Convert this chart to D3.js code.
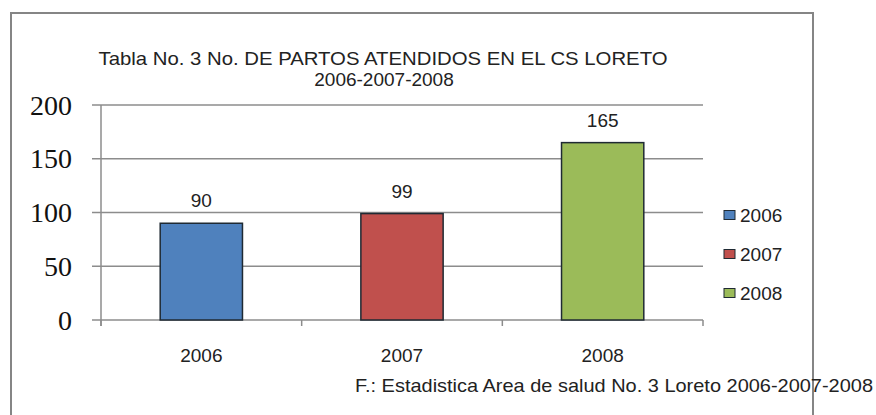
<!DOCTYPE html>
<html>
<head>
<meta charset="utf-8">
<script src="https://cdn.jsdelivr.net/npm/d3@7"></script>
<style>
  body { margin: 0; background: #fff; }
  svg { display: block; }
</style>
</head>
<body>
<div class="chart"></div>
<script>
// chart data
const years = ['2006', '2007', '2008'];
const partos = [90, 99, 165];
const colors = ['#4f81bd', '#c0504d', '#9bbb59'];
const yTicks = [0, 50, 100, 150, 200];
const titleLines = ['Tabla No. 3 No. DE PARTOS ATENDIDOS EN EL CS LORETO', '2006-2007-2008'];
const footer = 'F.: Estadistica Area de salud No. 3 Loreto 2006-2007-2008';

const width = 876;
const height = 415;

// plot area
const plot = { left: 101, right: 703, top: 105, bottom: 320 };

const svg = d3.select('.chart')
  .append('svg')
  .attr('width', width)
  .attr('height', height)
  .style('font-family', '"Liberation Sans", Arial, sans-serif');

// outer frame
svg.append('rect')
  .attr('x', 11)
  .attr('y', 13)
  .attr('width', 802)
  .attr('height', 420)
  .attr('fill', 'none')
  .attr('stroke', '#858585')
  .attr('stroke-width', 2);

// scales
const x = d3.scaleBand()
  .domain(years)
  .range([plot.left, plot.right])
  .paddingInner(0.59)
  .paddingOuter(0.295);
const xEdges = d3.scaleBand().domain(years).range([plot.left, plot.right]);
const y = d3.scaleLinear().domain([0, 200]).range([plot.bottom, plot.top]);

// gridlines + y ticks
svg.append('g')
  .selectAll('line')
  .data(yTicks)
  .enter()
  .append('line')
  .attr('x1', plot.left - 9)
  .attr('x2', plot.right)
  .attr('y1', d => y(d))
  .attr('y2', d => y(d))
  .attr('stroke', '#8c8c8c')
  .attr('stroke-width', 1.5);

// y axis line
svg.append('line')
  .attr('x1', plot.left).attr('x2', plot.left)
  .attr('y1', plot.top).attr('y2', plot.bottom + 6)
  .attr('stroke', '#8c8c8c')
  .attr('stroke-width', 1.5);

// x ticks at band edges
const edges = years.map(d => xEdges(d)).concat([plot.right]);
svg.append('g')
  .selectAll('line')
  .data(edges)
  .enter()
  .append('line')
  .attr('x1', d => d).attr('x2', d => d)
  .attr('y1', plot.bottom).attr('y2', plot.bottom + 6)
  .attr('stroke', '#8c8c8c')
  .attr('stroke-width', 1.5);

// y labels (serif)
svg.append('g')
  .selectAll('text')
  .data(yTicks)
  .enter()
  .append('text')
  .attr('x', 72)
  .attr('y', d => y(d))
  .attr('dy', '0.34em')
  .attr('text-anchor', 'end')
  .style('font-family', '"Liberation Serif", "Times New Roman", serif')
  .style('font-size', '28px')
  .attr('fill', '#111')
  .text(d => d);

// bars
svg.append('g')
  .selectAll('rect')
  .data(partos)
  .enter()
  .append('rect')
  .attr('x', (d, i) => x(years[i]))
  .attr('y', d => y(d))
  .attr('width', x.bandwidth())
  .attr('height', d => plot.bottom - y(d))
  .attr('fill', (d, i) => colors[i])
  .attr('stroke', '#1f2a33')
  .attr('stroke-width', 1.5);

// value labels
svg.append('g')
  .selectAll('text')
  .data(partos)
  .enter()
  .append('text')
  .attr('x', (d, i) => x(years[i]) + x.bandwidth() / 2)
  .attr('y', d => y(d) - 16)
  .attr('text-anchor', 'middle')
  .style('font-size', '19px')
  .attr('fill', '#222')
  .text(d => d);

// x labels
svg.append('g')
  .selectAll('text')
  .data(years)
  .enter()
  .append('text')
  .attr('x', d => x(d) + x.bandwidth() / 2)
  .attr('y', 362)
  .attr('text-anchor', 'middle')
  .style('font-size', '19px')
  .attr('fill', '#222')
  .text(d => d);

// title
svg.append('text')
  .attr('x', 383)
  .attr('y', 65)
  .attr('text-anchor', 'middle')
  .attr('textLength', 569)
  .attr('lengthAdjust', 'spacingAndGlyphs')
  .style('font-size', '19px')
  .attr('fill', '#222')
  .text(titleLines[0]);
svg.append('text')
  .attr('x', 384)
  .attr('y', 86)
  .attr('text-anchor', 'middle')
  .style('font-size', '19px')
  .attr('fill', '#222')
  .text(titleLines[1]);

// legend
const legend = svg.append('g')
  .selectAll('g')
  .data(years)
  .enter()
  .append('g')
  .attr('transform', (d, i) => `translate(724, ${215 + i * 39})`);
legend.append('rect')
  .attr('x', 0).attr('y', -4.5)
  .attr('width', 11).attr('height', 9)
  .attr('fill', (d, i) => colors[i])
  .attr('stroke', '#1f2a33')
  .attr('stroke-width', 1);
legend.append('text')
  .attr('x', 16)
  .attr('y', 0)
  .attr('dy', '0.35em')
  .style('font-size', '19px')
  .attr('fill', '#222')
  .text(d => d);

// source note
svg.append('text')
  .attr('x', 355)
  .attr('y', 392)
  .attr('textLength', 518)
  .attr('lengthAdjust', 'spacingAndGlyphs')
  .style('font-size', '19px')
  .attr('fill', '#222')
  .text(footer);
</script>
</body>
</html>
